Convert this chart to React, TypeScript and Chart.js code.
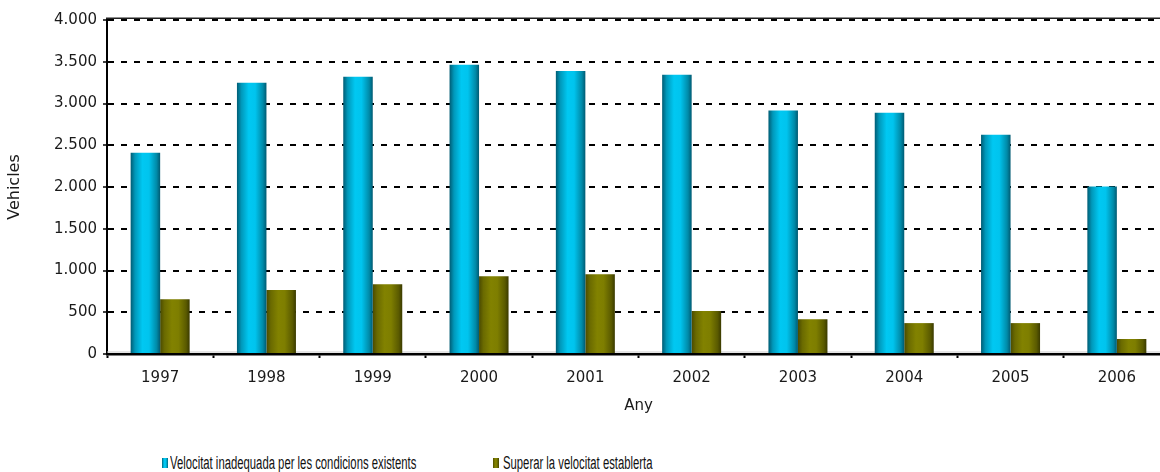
import React, { useEffect, useRef } from "react";
import { Chart, registerables } from "chart.js";

Chart.register(...registerables);

const years = ["1997", "1998", "1999", "2000", "2001", "2002", "2003", "2004", "2005", "2006"];
const velocitatInadequada = [2410, 3250, 3320, 3465, 3390, 3345, 2915, 2890, 2625, 2005];
const superarVelocitat = [655, 765, 835, 930, 955, 515, 415, 370, 370, 180];
const seriesNames = [
  "Velocitat inadequada per les condicions existents",
  "Superar la velocitat establerta",
];
const xTitle = "Any";
const yTitle = "Vehicles";

const cyanStops: [number, string][] = [
  [0, "#005c74"],
  [0.15, "#0098ba"],
  [0.4, "#00c8f2"],
  [0.62, "#00c4ee"],
  [0.88, "#008aa8"],
  [1, "#005a72"],
];
const oliveStops: [number, string][] = [
  [0, "#4a4a00"],
  [0.15, "#6a6a00"],
  [0.4, "#828200"],
  [0.62, "#7e7e00"],
  [0.88, "#5a5a00"],
  [1, "#3a3a00"],
];

const fmt = (v: number) => String(v).replace(/\B(?=(\d{3})+(?!\d))/g, ".");

const gradientPlugin = {
  id: "barGradient",
  beforeDatasetsDraw(chart: any) {
    const ctx = chart.ctx;
    chart.data.datasets.forEach((_ds: any, di: number) => {
      const meta = chart.getDatasetMeta(di);
      const stops = di === 0 ? cyanStops : oliveStops;
      meta.data.forEach((el: any) => {
        const left = el.x - el.width / 2;
        const right = el.x + el.width / 2;
        const g = ctx.createLinearGradient(left, 0, right, 0);
        stops.forEach(([o, c]) => g.addColorStop(o, c));
        el.options = Object.assign({}, el.options, { backgroundColor: g });
      });
    });
  },
};

const framePlugin = {
  id: "frame",
  beforeDatasetsDraw(chart: any) {
    const { ctx, chartArea } = chart;
    ctx.save();
    ctx.strokeStyle = "#c8c8c8";
    ctx.lineWidth = 1;
    ctx.beginPath();
    ctx.moveTo(chartArea.left, chartArea.bottom - 2);
    ctx.lineTo(chartArea.right, chartArea.bottom - 2);
    ctx.stroke();
    ctx.restore();
  },
  afterDraw(chart: any) {
    const { ctx, chartArea } = chart;
    ctx.save();
    ctx.strokeStyle = "#202020";
    ctx.lineWidth = 1.5;
    ctx.beginPath();
    ctx.moveTo(chartArea.left - 1, chartArea.top - 1.8);
    ctx.lineTo(chartArea.right, chartArea.top - 1.8);
    ctx.stroke();
    ctx.restore();
  },
};

function LegendBox({ stops }: { stops: [number, string][] }) {
  const grad = `linear-gradient(to right, ${stops.map(([o, c]) => `${c} ${o * 100}%`).join(", ")})`;
  return <span style={{ position: "absolute", left: 0, top: 3, width: 6, height: 10, background: grad }} />;
}

export default function App() {
  const canvasRef = useRef<HTMLCanvasElement | null>(null);

  useEffect(() => {
    const canvas = canvasRef.current;
    if (!canvas) return;
    const font = { family: "'DejaVu Sans', Verdana, sans-serif", size: 15 };
    const chart = new Chart(canvas, {
      type: "bar",
      data: {
        labels: years,
        datasets: [
          {
            label: seriesNames[0],
            data: velocitatInadequada,
            backgroundColor: "#00c6f0",
            borderWidth: 0,
            categoryPercentage: 0.555,
            barPercentage: 1,
          },
          {
            label: seriesNames[1],
            data: superarVelocitat,
            backgroundColor: "#808000",
            borderWidth: 0,
            categoryPercentage: 0.555,
            barPercentage: 1,
          },
        ],
      },
      options: {
        responsive: false,
        animation: false,
        devicePixelRatio: 1,
        layout: { padding: { top: 20, left: 0, right: 2, bottom: 0 } },
        plugins: {
          legend: { display: false },
          tooltip: { enabled: false },
          title: { display: false },
        },
        scales: {
          x: {
            afterFit: (scale: any) => {
              scale.height = 66;
            },
            grid: {
              display: true,
              offset: true,
              drawOnChartArea: false,
              drawTicks: true,
              tickLength: 4,
              tickWidth: 2,
              tickColor: "#000",
            },
            border: { display: true, color: "#000", width: 2.5 },
            ticks: { color: "#1a1a1a", font, padding: 11 },
            title: {
              display: true,
              text: xTitle,
              color: "#1a1a1a",
              font,
              padding: { top: 0, bottom: 5 },
            },
          },
          y: {
            min: 0,
            max: 4000,
            afterFit: (scale: any) => {
              scale.width = 107;
            },
            grid: {
              display: true,
              color: "#000",
              lineWidth: 2,
              drawTicks: true,
              tickLength: 4,
              tickWidth: 1.5,
              tickColor: "#000",
            },
            border: { display: true, color: "#000", width: 2, dash: [6, 7] },
            ticks: {
              stepSize: 500,
              color: "#1a1a1a",
              font,
              padding: 6,
              callback: (v: any) => fmt(Number(v)),
            },
            title: {
              display: true,
              text: yTitle,
              color: "#1a1a1a",
              font: { ...font, size: 16 },
              padding: { top: 5, bottom: 0 },
            },
          },
        },
      },
      plugins: [gradientPlugin, framePlugin],
    } as any);
    return () => chart.destroy();
  }, []);

  const legendText: React.CSSProperties = {
    position: "absolute",
    top: -2,
    whiteSpace: "nowrap",
    fontFamily: "'Liberation Sans', Arial, sans-serif",
    fontSize: 18,
    lineHeight: "20px",
    color: "#111",
    transform: "scaleX(0.628)",
    transformOrigin: "left center",
  };

  return (
    <div
      style={{
        position: "absolute",
        left: 0,
        top: 0,
        width: 1160,
        height: 472,
        overflow: "hidden",
        background: "#fff",
      }}
    >
      <canvas
        ref={canvasRef}
        width={1172}
        height={420}
        style={{ position: "absolute", left: 0, top: 0, width: 1172, height: 420 }}
      />
      <div style={{ position: "absolute", left: 162, top: 455, height: 16 }}>
        <LegendBox stops={cyanStops} />
        <span style={{ ...legendText, left: 7.5 }}>{seriesNames[0]}</span>
      </div>
      <div style={{ position: "absolute", left: 493, top: 455, height: 16 }}>
        <LegendBox stops={oliveStops} />
        <span style={{ ...legendText, left: 9.5 }}>{seriesNames[1]}</span>
      </div>
    </div>
  );
}
